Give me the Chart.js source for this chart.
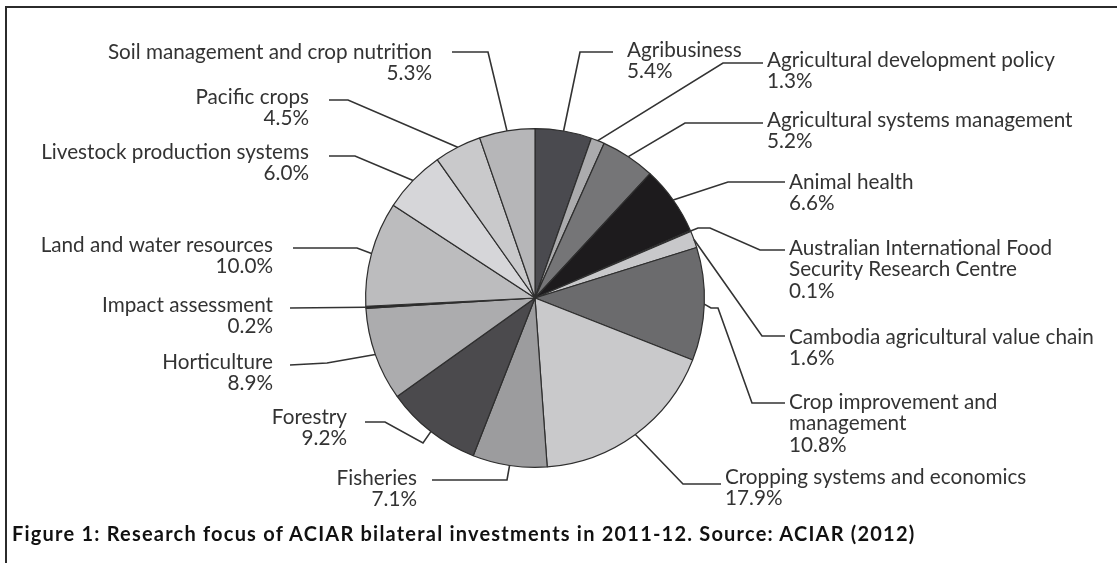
<!DOCTYPE html>
<html>
<head>
<meta charset="utf-8">
<script src="https://cdn.jsdelivr.net/npm/chart.js@4.4.1/dist/chart.umd.min.js"></script>
<style>
html,body{margin:0;padding:0;background:#fff;}
#wrap{position:relative;width:1117px;height:563px;overflow:hidden;}
#frame{position:absolute;left:5px;top:6px;width:1200px;height:700px;border-top:2px solid #2b2b2b;border-left:2px solid #2b2b2b;}
#pie{position:absolute;left:0;top:0;}
#caption{position:absolute;left:12px;top:521px;font:bold 20px Lato,sans-serif;color:#111;white-space:nowrap;}
</style>
</head>
<body>
<div id="wrap">
	<div id="frame"></div>
	<canvas id="pie" width="1117" height="563"></canvas>
	<div id="caption">Figure 1: Research focus of ACIAR bilateral investments in 2011-12. Source: ACIAR (2012)</div>
</div>
<script>
// slices, clockwise from 12 o'clock
const categories = [
	'Agribusiness',
	'Agricultural development policy',
	'Agricultural systems management',
	'Animal health',
	['Australian International Food', 'Security Research Centre'],
	'Cambodia agricultural value chain',
	['Crop improvement and', 'management'],
	'Cropping systems and economics',
	'Fisheries',
	'Forestry',
	'Horticulture',
	'Impact assessment',
	'Land and water resources',
	'Livestock production systems',
	'Pacific crops',
	'Soil management and crop nutrition'
];
const shares = [5.4, 1.3, 5.2, 6.6, 0.1, 1.6, 10.8, 17.9, 7.1, 9.2, 8.9, 0.2, 10.0, 6.0, 4.5, 5.3];
const sliceColors = ['#4a4a4f', '#ababad', '#757577', '#1d1b1d', '#8a8a8c', '#c8c8ca', '#6b6b6d', '#c9c9cb',
	'#9c9c9e', '#4b4a4d', '#acacae', '#2a2a2a', '#bcbcbe', '#d6d6d9', '#c9c9cb', '#b6b6b8'];

// where each label sits and the bends of its leader line (label end first)
const labelLayout = [
	{x: 627, y: 50, align: 'left', path: [[613, 52], [580, 52]]},
	{x: 767, y: 60, align: 'left', path: [[763, 63], [723, 63]]},
	{x: 767, y: 120, align: 'left', path: [[763, 123], [685, 123]]},
	{x: 789, y: 182, align: 'left', path: [[785, 182], [728, 182]]},
	{x: 789, y: 248, align: 'left', path: [[785, 250], [760, 250], [710, 228], [698, 228]]},
	{x: 789, y: 337, align: 'left', path: [[785, 336], [762, 336]]},
	{x: 789, y: 402, align: 'left', path: [[785, 403], [752, 403], [718, 308], [711, 308]]},
	{x: 725, y: 477, align: 'left', path: [[721, 484], [683, 484]]},
	{x: 417, y: 478, align: 'right', path: [[432, 480], [507, 480]]},
	{x: 347, y: 417, align: 'right', path: [[365, 422], [385, 422], [423, 443]]},
	{x: 273, y: 362, align: 'right', path: [[290, 365], [327, 363]]},
	{x: 273, y: 305, align: 'right', path: [[290, 308]]},
	{x: 273, y: 245, align: 'right', path: [[293, 248], [357, 248]]},
	{x: 309, y: 152, align: 'right', path: [[329, 156], [355, 156]]},
	{x: 309, y: 97, align: 'right', path: [[329, 100], [348, 100]]},
	{x: 432, y: 52, align: 'right', path: [[452, 52], [488, 52]]}
];

const canvas = document.getElementById('pie');
const c2 = canvas.getContext('2d');
c2.font = '19px Lato';
const fitSize = 19 * 325 / c2.measureText('Soil management and crop nutrition').width;
const labelFont = fitSize.toFixed(1) + 'px Lato, sans-serif';

// stretch the caption to the width it has in the figure
const cap = document.getElementById('caption');
c2.font = 'bold 20px Lato';
const capW = c2.measureText(cap.textContent).width;
cap.style.letterSpacing = ((905 - capW) / cap.textContent.length).toFixed(2) + 'px';

const leaders = {
	id: 'leaders',
	afterDatasetsDraw(chart) {
		const ctx = chart.ctx;
		const arcs = chart.getDatasetMeta(0).data;
		ctx.save();
		arcs.forEach(function (arc, i) {
			const L = labelLayout[i];
			const mid = (arc.startAngle + arc.endAngle) / 2;
			const ex = arc.x + Math.cos(mid) * arc.outerRadius;
			const ey = arc.y + Math.sin(mid) * arc.outerRadius;
			ctx.beginPath();
			ctx.moveTo(L.path[0][0], L.path[0][1]);
			L.path.slice(1).forEach(function (p) { ctx.lineTo(p[0], p[1]); });
			ctx.lineTo(ex, ey);
			ctx.strokeStyle = '#333';
			ctx.lineWidth = 1.6;
			ctx.stroke();

			const lines = [].concat(chart.data.labels[i], shares[i].toFixed(1) + '%');
			ctx.font = labelFont;
			ctx.fillStyle = '#333';
			ctx.textAlign = L.align;
			ctx.textBaseline = 'middle';
			lines.forEach(function (t, k) { ctx.fillText(t, L.x, L.y + k * 21.5); });
		});
		ctx.restore();
	}
};

new Chart(canvas, {
	type: 'pie',
	data: {
		labels: categories,
		datasets: [{
			data: shares,
			backgroundColor: sliceColors,
			borderColor: '#2e2e2e',
			borderWidth: 1.2
		}]
	},
	options: {
		responsive: false,
		animation: false,
		layout: {padding: {left: 365, right: 412, top: 128, bottom: 95}},
		plugins: {legend: {display: false}, tooltip: {enabled: false}}
	},
	plugins: [leaders]
});
</script>
</body>
</html>
